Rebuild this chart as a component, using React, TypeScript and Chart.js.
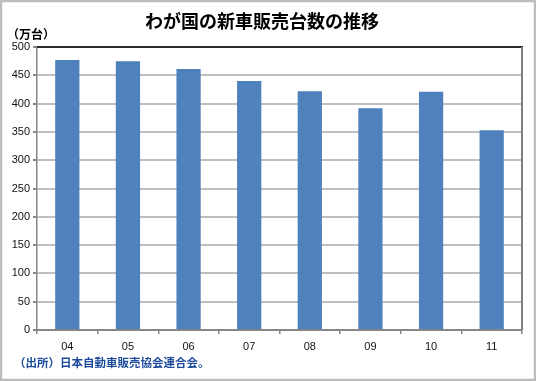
import React, { useEffect, useRef } from "react";
import { Chart, registerables } from "chart.js";

Chart.register(...registerables);

const categories = ["04", "05", "06", "07", "08", "09", "10", "11"];
const sales = [477, 475, 461, 440, 422, 392, 421, 353];
const yMax = 500;
const yStep = 50;
const chartTitle = "わが国の新車販売台数の推移";
const unitLabel = "（万台）";
const sourceNote = "（出所）日本自動車販売協会連合会。";

const W = 536;
const H = 381;

const chromePlugin = {
  id: "chrome",
  beforeDraw(chart: any) {
    const ctx = chart.ctx;
    ctx.save();
    ctx.fillStyle = "#ffffff";
    ctx.fillRect(0, 0, W, H);
    ctx.restore();
  },
  afterDraw(chart: any) {
    const ctx = chart.ctx;
    const a = chart.chartArea;
    ctx.save();
    // plot frame top & right
    ctx.lineWidth = 2;
    ctx.strokeStyle = "#2b2b2b";
    ctx.beginPath();
    ctx.moveTo(a.left, a.top);
    ctx.lineTo(a.right + 1, a.top);
    ctx.stroke();
    ctx.strokeStyle = "#7f7f7f";
    ctx.beginPath();
    ctx.moveTo(a.right, a.top);
    ctx.lineTo(a.right, a.bottom);
    ctx.stroke();
    // outer border
    ctx.strokeStyle = "#bdbdbd";
    ctx.lineWidth = 2.5;
    ctx.strokeRect(1, 1, W - 2, H - 2);
    // title
    ctx.fillStyle = "#000000";
    ctx.font = 'bold 18px "Noto Sans CJK JP"';
    ctx.textAlign = "center";
    ctx.textBaseline = "middle";
    ctx.fillText(chartTitle, 262, 21);
    // unit
    ctx.font = 'bold 12px "Noto Sans CJK JP"';
    ctx.textAlign = "left";
    ctx.fillText(unitLabel, 7, 34);
    // source note
    ctx.fillStyle = "#1c4a9c";
    ctx.font = 'bold 11.5px "Noto Sans CJK JP"';
    ctx.fillText(sourceNote, 14, 363);
    ctx.restore();
  },
};

export default function App() {
  const ref = useRef<HTMLCanvasElement | null>(null);

  useEffect(() => {
    if (!ref.current) return;
    const chart = new Chart(ref.current, {
      type: "bar",
      data: {
        labels: categories,
        datasets: [
          {
            data: sales,
            backgroundColor: "#4f81bd",
            borderWidth: 0,
            barPercentage: 1,
            categoryPercentage: 0.4,
          },
        ],
      },
      options: {
        responsive: false,
        animation: false,
        devicePixelRatio: 1,
        layout: { padding: { left: 0, top: 47, right: 14, bottom: 0 } },
        plugins: {
          legend: { display: false },
          title: { display: false },
          tooltip: { enabled: false },
        },
        scales: {
          x: {
            afterFit: (s: any) => {
              s.height = 51;
            },
            grid: {
              offset: true,
              drawOnChartArea: false,
              drawTicks: true,
              tickLength: 4,
              tickColor: "#868686",
              lineWidth: 1.5,
            },
            border: { display: true, color: "#868686", width: 2 },
            ticks: {
              color: "#111111",
              padding: 6,
              font: { family: "Liberation Sans", size: 11 },
              maxRotation: 0,
            },
          },
          y: {
            min: 0,
            max: yMax,
            afterFit: (s: any) => {
              s.width = 37;
            },
            grid: {
              color: "#bfbfbf",
              lineWidth: 2,
              drawTicks: true,
              tickLength: 4,
              tickColor: "#868686",
            },
            border: { display: true, color: "#868686", width: 1.5 },
            ticks: {
              stepSize: yStep,
              color: "#111111",
              padding: 3,
              font: { family: "Liberation Sans", size: 11 },
            },
          },
        },
      },
      plugins: [chromePlugin],
    });
    return () => chart.destroy();
  }, []);

  return (
    <div style={{ position: "fixed", left: 0, top: 0, width: W, height: H, background: "#fff" }}>
      <canvas ref={ref} width={W} height={H} style={{ display: "block", width: W, height: H }} />
    </div>
  );
}
